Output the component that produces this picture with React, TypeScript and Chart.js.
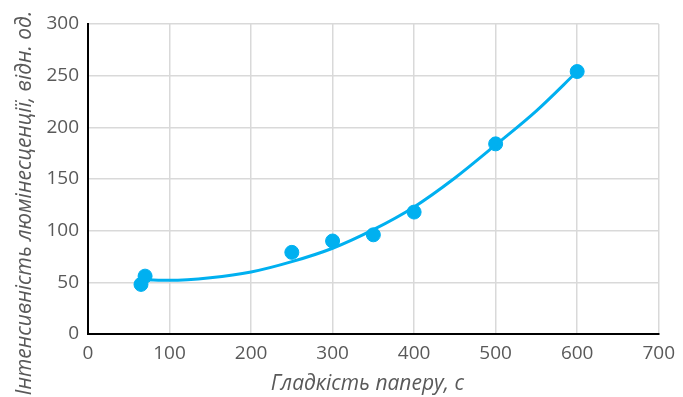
import React, { useEffect, useRef } from "react";
import { Chart, registerables } from "chart.js";

Chart.register(...registerables);

const smoothness = [65, 70, 250, 300, 350, 400, 500, 600];
const intensity = [48, 56, 79, 90, 96, 118, 184, 254];

const trendX = [70, 100, 150, 200, 250, 300, 350, 400, 450, 500, 550, 600];
const trendY = [52.5, 52, 54.5, 60, 70, 83, 101, 123, 151, 183, 216, 254];

const xTitle = "Гладкість паперу, с";
const yTitle = "Інтенсивність люмінесценції, відн. од.";

const BLUE = "#00B0F0";
const TEXT = "#595959";
const TITLE_FONT = "italic 21px 'Open Sans'";

const axisTitles = {
  id: "axisTitles",
  afterDraw(chart: any) {
    const ctx = chart.ctx;
    const area = chart.chartArea;
    ctx.save();
    ctx.fillStyle = TEXT;
    ctx.font = TITLE_FONT;
    ctx.textAlign = "center";
    ctx.textBaseline = "middle";
    // x title
    ctx.fillText(xTitle, (area.left + area.right) / 2 - 6, 384);
    // y title
    ctx.translate(25, (area.top + area.bottom) / 2 + 24);
    ctx.rotate(-Math.PI / 2);
    ctx.fillText(yTitle, 0, 0);
    ctx.restore();
  },
};

export default function App() {
  const ref = useRef<HTMLCanvasElement | null>(null);

  useEffect(() => {
    if (!ref.current) return;
    const chart = new Chart(ref.current, {
      type: "scatter",
      data: {
        datasets: [
          {
            label: "Точки",
            data: smoothness.map((x, i) => ({ x, y: intensity[i] })),
            backgroundColor: BLUE,
            borderColor: BLUE,
            pointRadius: 7,
            pointHoverRadius: 7,
            showLine: false,
            order: 2,
          },
          {
            label: "Тренд",
            data: trendX.map((x, i) => ({ x, y: trendY[i] })),
            borderColor: BLUE,
            backgroundColor: BLUE,
            borderWidth: 3,
            pointRadius: 0,
            showLine: true,
            cubicInterpolationMode: "monotone",
            order: 1,
          },
        ],
      },
      options: {
        responsive: false,
        animation: false,
        layout: { padding: { top: 24, right: 24, left: 0, bottom: 0 } },
        plugins: { legend: { display: false }, tooltip: { enabled: false } },
        scales: {
          x: {
            type: "linear",
            min: 0,
            max: 700,
            ticks: {
              stepSize: 100,
              color: TEXT,
              font: { family: "Open Sans", size: 19 },
              padding: 8,
            },
            grid: { color: "#d9d9d9", lineWidth: 1.5, drawTicks: false },
            border: { color: "#000", width: 2 },
            title: { display: false },
            afterFit: (scale: any) => {
              scale.height = 63;
            },
          },
          y: {
            type: "linear",
            min: 0,
            max: 300,
            ticks: {
              stepSize: 50,
              color: TEXT,
              font: { family: "Open Sans", size: 19 },
              padding: 9,
            },
            grid: { color: "#d9d9d9", lineWidth: 1.5, drawTicks: false },
            border: { color: "#000", width: 2 },
            title: { display: false },
            afterFit: (scale: any) => {
              scale.width = 88;
            },
          },
        },
      },
      plugins: [axisTitles],
    });
    return () => chart.destroy();
  }, []);

  return (
    <div style={{ position: "fixed", left: 0, top: 0, width: 683, height: 397, background: "#fff" }}>
      <canvas ref={ref} width={683} height={397} />
    </div>
  );
}
